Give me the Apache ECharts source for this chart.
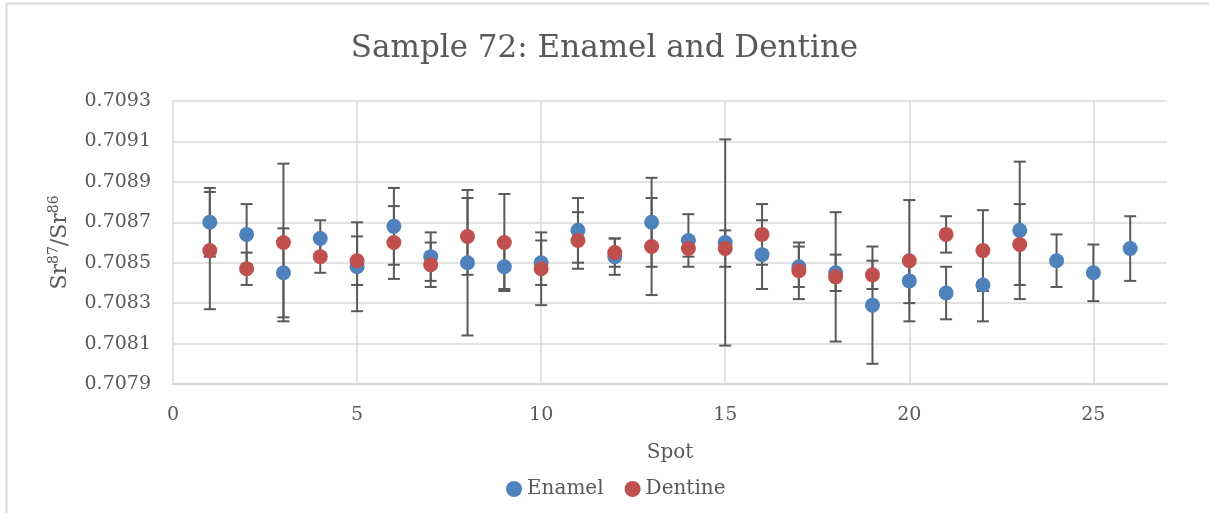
<!DOCTYPE html>
<html>
<head>
<meta charset="utf-8">
<script src="https://cdn.jsdelivr.net/npm/echarts@6/dist/echarts.min.js"></script>
<style>
html,body{margin:0;padding:0;background:#fff;}
#chart{width:1209px;height:513px;}
</style>
</head>
<body>
<div id="chart"></div>
<script>
// ---- data ----
const enamelSpots = [1,2,3,4,5,6,7,8,9,10,11,12,13,14,15,16,17,18,19,20,21,22,23,24,25,26];
const enamelValues = [0.70870,0.70864,0.70845,0.70862,0.70848,0.70868,0.70853,0.70850,0.70848,0.70850,0.70866,0.70853,0.70870,0.70861,0.70860,0.70854,0.70848,0.70845,0.70829,0.70841,0.70835,0.70839,0.70866,0.70851,0.70845,0.70857];
const enamelErrors = [0.00017,0.00015,0.00022,0.00009,0.00022,0.00019,0.00012,0.00036,0.00011,0.00011,0.00016,0.00009,0.00022,0.00013,0.00051,0.00017,0.00010,0.00009,0.00029,0.00011,0.00013,0.00018,0.00034,0.00013,0.00014,0.00016];

const dentineSpots = [1,2,3,4,5,6,7,8,9,10,11,12,13,14,15,16,17,18,19,20,21,22,23];
const dentineValues = [0.70856,0.70847,0.70860,0.70853,0.70851,0.70860,0.70849,0.70863,0.70860,0.70847,0.70861,0.70855,0.70858,0.70857,0.70857,0.70864,0.70846,0.70843,0.70844,0.70851,0.70864,0.70856,0.70859];
const dentineErrors = [0.00029,0.00008,0.00039,0.00008,0.00012,0.00018,0.00011,0.00019,0.00024,0.00018,0.00014,0.00007,0.00024,0.00004,0.00009,0.00015,0.00014,0.00032,0.00007,0.00030,0.00009,0.00020,0.00020];

const titleText = 'Sample 72: Enamel and Dentine';
const xName = 'Spot';
const seriesNames = ['Enamel', 'Dentine'];

// ---- build ----
const FONT = 'DejaVu Serif';
const TEXT = '#595959';
const BLUE = '#4f81bd';
const RED = '#c0504d';

function pts(xs, vs) { return xs.map((x, i) => [x, vs[i]]); }
function errs(xs, vs, es) { return xs.map((x, i) => [x, vs[i], es[i]]); }

function renderErr(params, api) {
  const x = api.value(0), v = api.value(1), e = api.value(2);
  const top = api.coord([x, v + e]);
  const bot = api.coord([x, v - e]);
  const hw = 6;
  const style = { stroke: '#595959', lineWidth: 2 };
  return {
    type: 'group',
    children: [
      { type: 'line', shape: { x1: top[0], y1: top[1], x2: bot[0], y2: bot[1] }, style },
      { type: 'line', shape: { x1: top[0] - hw, y1: top[1], x2: top[0] + hw, y2: top[1] }, style },
      { type: 'line', shape: { x1: bot[0] - hw, y1: bot[1], x2: bot[0] + hw, y2: bot[1] }, style }
    ]
  };
}

const chart = echarts.init(document.getElementById('chart'), null, { renderer: 'canvas' });
chart.setOption({
  backgroundColor: '#fff',
  animation: false,
  textStyle: { fontFamily: FONT },
  title: {
    text: titleText,
    left: 'center',
    top: 28,
    textStyle: { fontFamily: FONT, fontSize: 31, fontWeight: 'normal', color: TEXT }
  },
  legend: {
    data: [
      { name: seriesNames[0], icon: 'circle' },
      { name: seriesNames[1], icon: 'circle' }
    ],
    left: 501,
    top: 474,
    itemWidth: 16,
    itemHeight: 16,
    itemGap: 21,
    textStyle: { fontFamily: FONT, fontSize: 20, color: TEXT }
  },
  graphic: [
    { type: 'line', shape: { x1: 6.5, y1: 3.5, x2: 6.5, y2: 513 }, style: { stroke: '#d9d9d9', lineWidth: 2 } },
    { type: 'line', shape: { x1: 6.5, y1: 3.5, x2: 1209, y2: 3.5 }, style: { stroke: '#d9d9d9', lineWidth: 2 } }
  ],
  grid: { left: 173, right: 42, top: 101, bottom: 129 },
  xAxis: {
    type: 'value',
    min: 0,
    max: 27,
    interval: 5,
    name: xName,
    nameLocation: 'middle',
    nameGap: 59,
    nameTextStyle: { fontFamily: FONT, fontSize: 20, color: TEXT },
    axisLine: { show: true, onZero: false, lineStyle: { color: '#d0d0d0', width: 1.5 } },
    axisTick: { show: false },
    axisLabel: { color: TEXT, fontFamily: FONT, fontSize: 19, margin: 22, showMaxLabel: false,
      formatter: v => (v % 5 === 0 ? String(v) : '') },
    splitLine: { show: true, showMaxLine: false, lineStyle: { color: '#d9d9d9', width: 1.5 } }
  },
  yAxis: {
    type: 'value',
    min: 0.7079,
    max: 0.7093,
    interval: 0.0002,
    name: '{a|Sr}{s|87}{a|/Sr}{s|86}',
    nameLocation: 'middle',
    nameRotate: 90,
    nameGap: 100,
    nameTextStyle: {
      color: TEXT,
      rich: {
        a: { fontFamily: FONT, fontSize: 22, color: TEXT },
        s: { fontFamily: FONT, fontSize: 14, color: TEXT, padding: [0, 0, 12, 0] }
      }
    },
    axisLine: { show: false },
    axisTick: { show: false },
    axisLabel: { color: TEXT, fontFamily: FONT, fontSize: 19, margin: 22, formatter: v => v.toFixed(4) },
    splitLine: { show: true, lineStyle: { color: '#d9d9d9', width: 1.5 } }
  },
  series: [
    { name: seriesNames[0] + ' err', type: 'custom', renderItem: renderErr, data: errs(enamelSpots, enamelValues, enamelErrors), z: 2, silent: true },
    { name: seriesNames[1] + ' err', type: 'custom', renderItem: renderErr, data: errs(dentineSpots, dentineValues, dentineErrors), z: 2, silent: true },
    { name: seriesNames[0], type: 'scatter', symbol: 'circle', symbolSize: 15, itemStyle: { color: BLUE, opacity: 1 }, data: pts(enamelSpots, enamelValues), z: 3 },
    { name: seriesNames[1], type: 'scatter', symbol: 'circle', symbolSize: 15, itemStyle: { color: RED, opacity: 1 }, data: pts(dentineSpots, dentineValues), z: 4 }
  ]
});
</script>
</body>
</html>
